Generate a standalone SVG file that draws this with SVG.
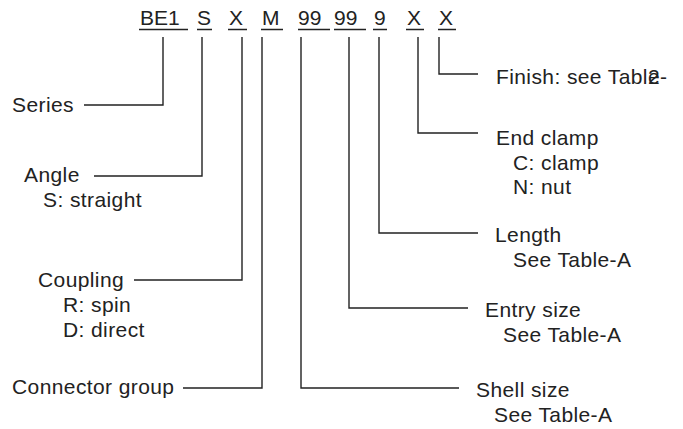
<svg xmlns="http://www.w3.org/2000/svg" width="683" height="429" viewBox="0 0 683 429">
<style>
text{font-family:"Liberation Sans",Arial,sans-serif;font-size:21px;letter-spacing:0.4px;fill:#222}
.code{font-size:21px;letter-spacing:0}
.ln{fill:none;stroke:#222;stroke-width:1.4}
</style>
<rect width="683" height="429" fill="#fff"/>
<g id="code">
<text class="code" x="140" y="25">BE1</text>
<text class="code" x="197" y="25">S</text>
<text class="code" x="229" y="25">X</text>
<text class="code" x="262" y="25">M</text>
<text class="code" x="298" y="25">99</text>
<text class="code" x="334" y="25">99</text>
<text class="code" x="374" y="25">9</text>
<text class="code" x="407" y="25">X</text>
<text class="code" x="439" y="25">X</text>
<path class="ln" d="M139,29.5H188M197,29.5H212M228,29.5H247M261,29.5H283M298,29.5H330M334,29.5H366M373,29.5H387M406,29.5H424M438,29.5H456"/>
</g>
<g id="connectors">
<path class="ln" d="M163,37V105H84"/>
<path class="ln" d="M202,37V176H94"/>
<path class="ln" d="M242,37V280H134"/>
<path class="ln" d="M262,37V388H183"/>
<path class="ln" d="M301,37V388H459"/>
<path class="ln" d="M349,37V308H468"/>
<path class="ln" d="M379,37V233H478"/>
<path class="ln" d="M418,37V133H478"/>
<path class="ln" d="M439,37V74H478"/>
</g>
<g id="series"><text x="12" y="112">Series</text></g>
<g id="angle"><text x="24" y="182">Angle</text><text x="43" y="207">S: straight</text></g>
<g id="coupling"><text x="38" y="287">Coupling</text><text x="63" y="312">R: spin</text><text x="63" y="337">D: direct</text></g>
<g id="connector-group"><text x="12" y="394">Connector group</text></g>
<g id="finish"><text x="496" y="84">Finish: see Table<tspan dx="-12.1">2</tspan>-</text></g>
<g id="end-clamp"><text x="496" y="145">End clamp</text><text x="513" y="169.5">C: clamp</text><text x="513" y="194">N: nut</text></g>
<g id="length"><text x="495" y="242">Length</text><text x="513" y="267">See Table-A</text></g>
<g id="entry-size"><text x="485" y="317">Entry size</text><text x="503" y="342">See Table-A</text></g>
<g id="shell-size"><text x="476" y="397">Shell size</text><text x="494" y="422">See Table-A</text></g>
</svg>
